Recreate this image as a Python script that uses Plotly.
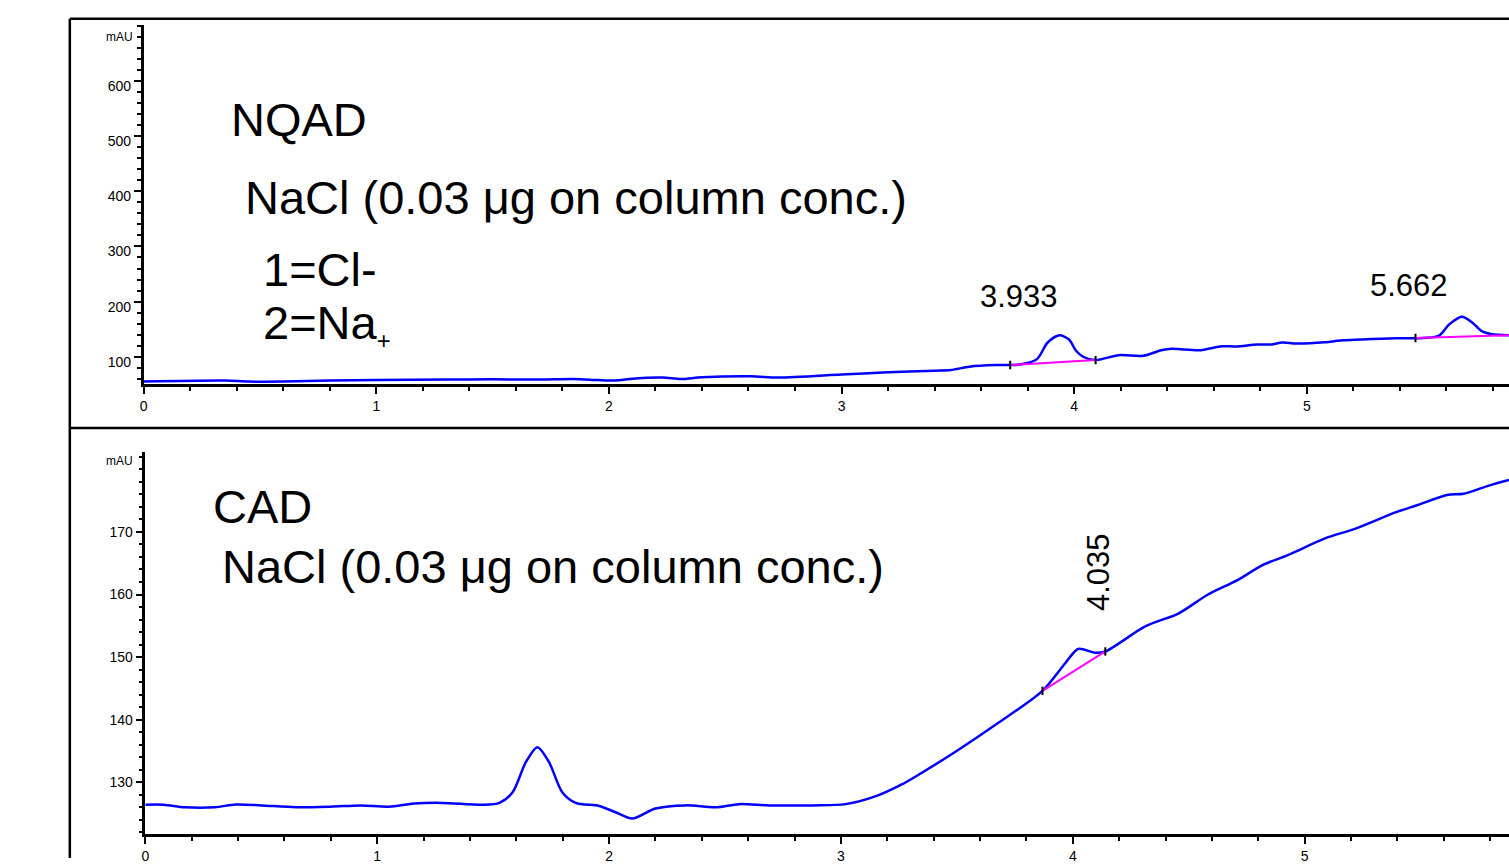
import plotly.graph_objects as go

# ---------------- data ----------------
# NQAD trace (top panel): retention time (min), signal (mAU)
nqad_time = [0.0, 0.35, 0.45, 0.6, 0.8, 1.0, 1.3, 1.5, 1.7, 1.85, 1.95, 2.03, 2.09, 2.23, 2.31,
             2.4, 2.61, 2.73, 3.0, 3.2, 3.4, 3.47, 3.55, 3.66, 3.725, 3.778, 3.84, 3.886, 3.936,
             3.977, 4.008, 4.038, 4.092, 4.191, 4.298, 4.374, 4.42, 4.543, 4.635, 4.696, 4.787,
             4.848, 4.894, 4.955, 5.077, 5.154, 5.23, 5.383, 5.467, 5.566, 5.612, 5.666, 5.712,
             5.75, 5.796, 5.869]
nqad_signal = [55.0, 56.8, 55.0, 55.0, 56.8, 57.8, 58.6, 59.1, 58.6, 59.6, 57.8, 56.8, 59.6, 62.2, 59.6,
               62.7, 64.5, 62.2, 67.6, 71.7, 74.8, 75.9, 82.0, 84.9, 84.9, 86.7, 95.7, 125.8, 138.9,
               131.7, 110.8, 100.0, 93.9, 102.9, 101.8, 111.9, 114.4, 111.9, 119.1, 118.6, 122.2,
               122.2, 125.8, 124.0, 126.3, 129.9, 131.2, 133.5, 133.5, 137.8, 158.7, 172.6, 161.8,
               146.8, 140.7, 138.9]

# CAD trace (bottom panel)
cad_time = [0.0, 0.08, 0.17, 0.3, 0.39, 0.5, 0.65, 0.8, 0.93, 1.05, 1.16, 1.28, 1.455, 1.527, 1.584,
            1.641, 1.691, 1.741, 1.798, 1.856, 1.957, 2.028, 2.1, 2.2, 2.33, 2.46, 2.56, 2.69, 2.88,
            3.02, 3.16, 3.26, 3.317, 3.499, 3.679, 3.869, 3.969, 4.023, 4.095, 4.14, 4.312, 4.457,
            4.583, 4.71, 4.818, 4.927, 5.09, 5.216, 5.397, 5.487, 5.614, 5.686, 5.794, 5.881]
cad_signal = [126.4, 126.4, 126.0, 126.0, 126.45, 126.3, 126.0, 126.1, 126.3, 126.1, 126.6, 126.7, 126.4,
              126.7, 128.4, 133.2, 135.6, 133.2, 128.4, 126.7, 126.2, 125.2, 124.2, 125.8, 126.3, 126.0,
              126.5, 126.3, 126.3, 126.5, 127.9, 129.6, 130.8, 135.0, 139.5, 144.6, 149.1, 151.3, 150.7,
              150.9, 154.9, 157.0, 160.0, 162.3, 164.7, 166.3, 169.0, 170.5, 173.2, 174.3, 175.9, 176.1,
              177.4, 178.3]

# integration baselines (start, end) for the labelled peaks
nqad_base1_time = [3.725, 4.092]
nqad_base1_signal = [84.9, 93.9]
nqad_base2_time = [5.467, 5.869]
nqad_base2_signal = [134.0, 138.9]
cad_base_time = [3.869, 4.14]
cad_base_signal = [144.6, 150.9]

# peak retention-time labels
nqad_peak_labels = ["3.933", "5.662"]
cad_peak_labels = ["4.035"]

# axis ticks
nqad_yticks = [100, 200, 300, 400, 500, 600]
cad_yticks = [130, 140, 150, 160, 170]
x_ticks = [0, 1, 2, 3, 4, 5]

# ---------------- figure ----------------
W, H = 1509, 864
BLUE = "#0000FF"
MAG = "#FF00FF"
FONT = "Liberation Sans, Arial, sans-serif"

fig = go.Figure()

fig.add_trace(go.Scatter(x=nqad_time, y=nqad_signal, mode="lines",
                         line=dict(color=BLUE, width=2.5, shape="spline", smoothing=0.8),
                         xaxis="x", yaxis="y", showlegend=False, hoverinfo="skip"))
for bt, bs in [(nqad_base1_time, nqad_base1_signal), (nqad_base2_time, nqad_base2_signal)]:
    fig.add_trace(go.Scatter(x=bt, y=bs, mode="lines", line=dict(color=MAG, width=2),
                             xaxis="x", yaxis="y", showlegend=False, hoverinfo="skip"))
fig.add_trace(go.Scatter(x=[nqad_base1_time[0], nqad_base1_time[1], nqad_base2_time[0]],
                         y=[nqad_base1_signal[0], nqad_base1_signal[1], nqad_base2_signal[0]],
                         mode="markers",
                         marker=dict(symbol="line-ns", size=6, line=dict(color="black", width=2)),
                         xaxis="x", yaxis="y", showlegend=False, hoverinfo="skip"))

fig.add_trace(go.Scatter(x=cad_time, y=cad_signal, mode="lines",
                         line=dict(color=BLUE, width=2.5, shape="spline", smoothing=0.8),
                         xaxis="x2", yaxis="y2", showlegend=False, hoverinfo="skip"))
fig.add_trace(go.Scatter(x=cad_base_time, y=cad_base_signal, mode="lines",
                         line=dict(color=MAG, width=2),
                         xaxis="x2", yaxis="y2", showlegend=False, hoverinfo="skip"))
fig.add_trace(go.Scatter(x=cad_base_time, y=cad_base_signal, mode="markers",
                         marker=dict(symbol="line-ns", size=6, line=dict(color="black", width=2)),
                         xaxis="x2", yaxis="y2", showlegend=False, hoverinfo="skip"))

tickfont = dict(family=FONT, size=14, color="black")
common_x = dict(showline=True, linecolor="black", linewidth=2.5, showgrid=False, zeroline=False,
                ticks="outside", ticklen=7, tickwidth=2, tickcolor="black",
                tickvals=x_ticks, tickfont=tickfont,
                minor=dict(dtick=0.2, ticks="outside", ticklen=4, tickwidth=2, tickcolor="black"))
common_y = dict(showline=True, linecolor="black", linewidth=2.5, showgrid=False, zeroline=False,
                ticks="outside", ticklen=7, tickwidth=2, tickcolor="black", tickfont=tickfont)

fig.update_layout(
    width=W, height=H,
    margin=dict(l=0, r=0, t=0, b=0, pad=0),
    paper_bgcolor="white", plot_bgcolor="white",
    xaxis=dict(domain=[140 / W, 1.0], range=[0, 5.869], anchor="y", **common_x),
    yaxis=dict(domain=[1 - 387 / H, 1 - 25 / H], range=[50, 702], anchor="x",
               tickvals=nqad_yticks, ticklabelshift=5,
               minor=dict(dtick=20, ticks="outside", ticklen=4, tickwidth=2, tickcolor="black"),
               **common_y),
    xaxis2=dict(domain=[141.7 / W, 1.0], range=[0, 5.881], anchor="y2", **common_x),
    yaxis2=dict(domain=[1 - 840 / H, 1 - 455 / H], range=[121.7, 182.8], anchor="x2",
                tickvals=cad_yticks,
                minor=dict(dtick=2, ticks="outside", ticklen=4, tickwidth=2, tickcolor="black"),
                **common_y),
)

# outer frame lines
frame = dict(color="black", width=2.5)
fig.add_shape(type="line", xref="paper", yref="paper", x0=66 / W, x1=1.0, y0=1 - 19 / H, y1=1 - 19 / H, line=frame)
fig.add_shape(type="line", xref="paper", yref="paper", x0=66 / W, x1=66 / W, y0=0, y1=1 - 19 / H, line=frame)
fig.add_shape(type="line", xref="paper", yref="paper", x0=66 / W, x1=1.0, y0=1 - 431 / H, y1=1 - 431 / H, line=frame)

big = dict(family=FONT, size=47, color="black")
mid = dict(family=FONT, size=31, color="black")
small = dict(family=FONT, size=12, color="black")

def note(text, px, py, font, xanchor="left", angle=0):
    fig.add_annotation(text=text, xref="paper", yref="paper", x=px / W, y=1 - py / H,
                       xanchor=xanchor, yanchor="middle", showarrow=False, font=font,
                       textangle=angle)

note("NQAD", 226, 120, big)
note("NaCl (0.03 μg on column conc.)", 240, 199, big)
note("1=Cl-", 258, 271, big)
note("2=Na<sub><span style='font-size:24px'>+</span></sub>", 258, 327, big)
note(nqad_peak_labels[0], 1018, 299, mid, xanchor="center")
note(nqad_peak_labels[1], 1409, 288, mid, xanchor="center")
note("mAU", 131, 37, small, xanchor="right")

note("CAD", 208, 510, big)
note("NaCl (0.03 μg on column conc.)", 217, 570, big)
note(cad_peak_labels[0], 1097, 576, mid, xanchor="center", angle=-90)
note("mAU", 131, 464, small, xanchor="right")

fig.write_html("out.html", config={"displayModeBar": False},
               post_script="document.body.style.margin='0';")
